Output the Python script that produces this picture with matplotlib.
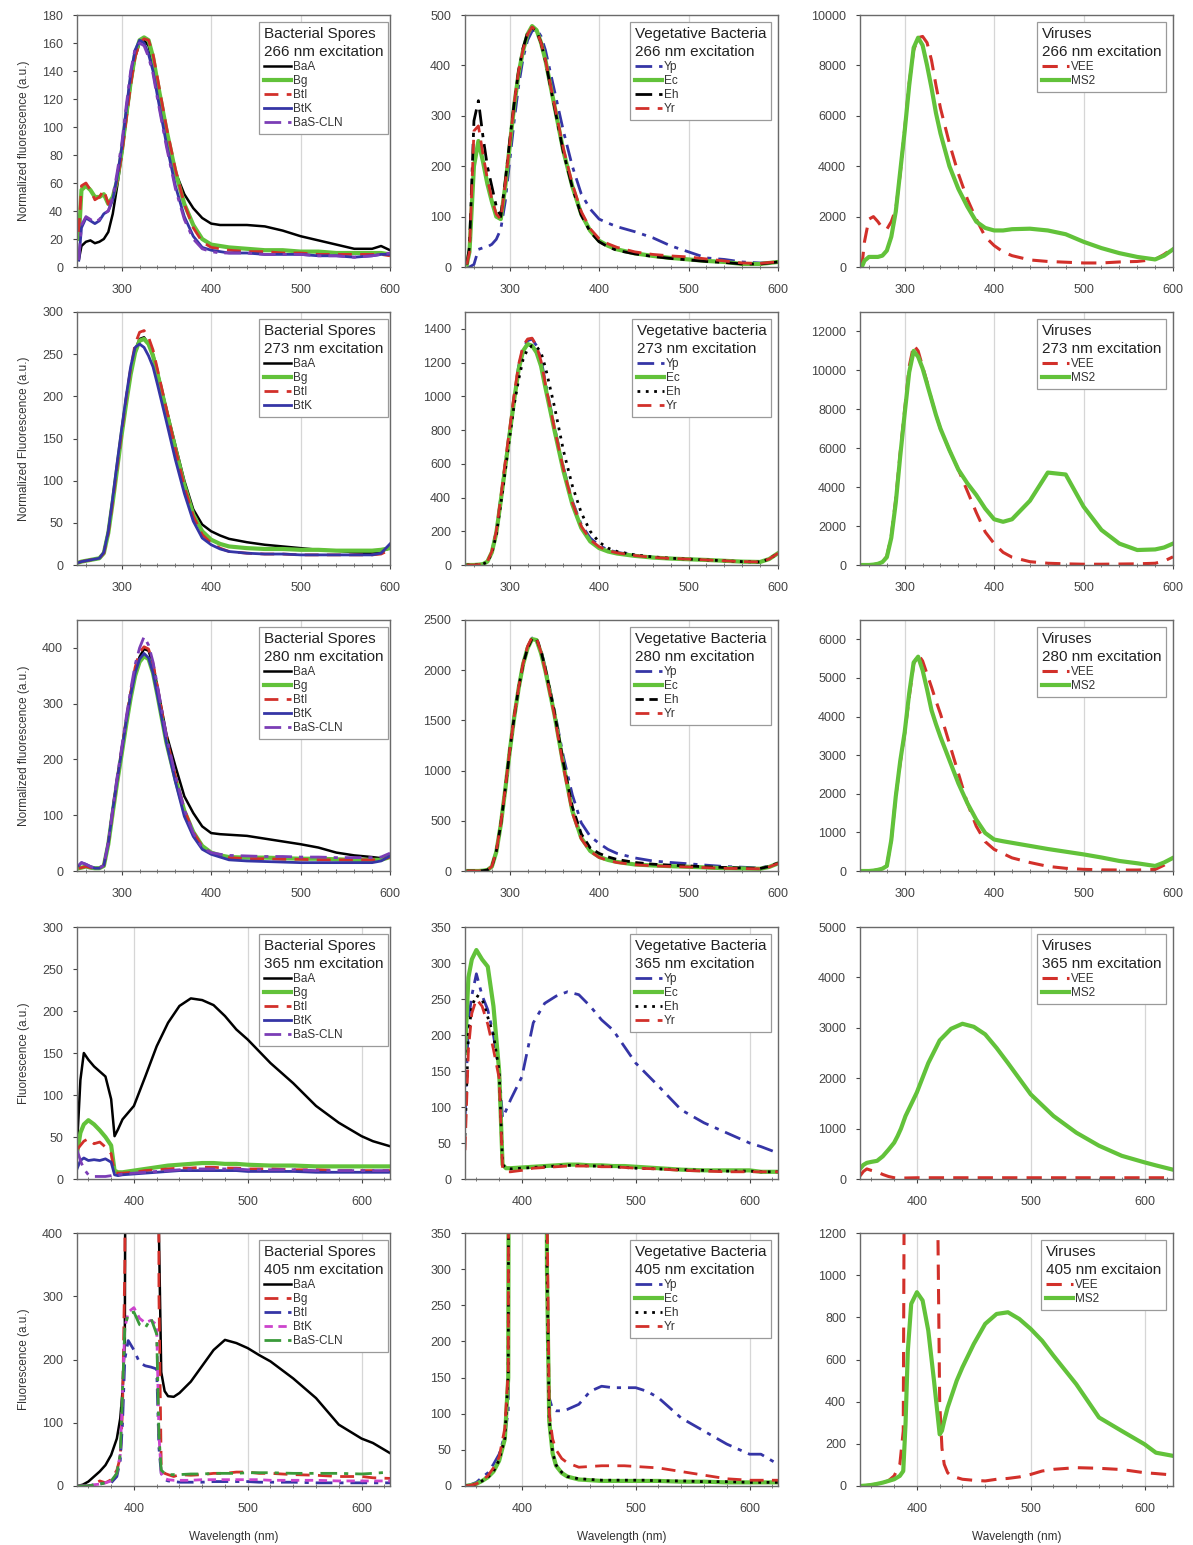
import numpy as np
import matplotlib
matplotlib.use('Agg')
import matplotlib.pyplot as plt
from matplotlib.ticker import MultipleLocator

plt.rcParams['font.family'] = ['Liberation Sans', 'DejaVu Sans']

# wavelength grids (nm)
wl_uv = [252, 255, 260, 265, 270, 275, 280, 285, 290, 295, 300, 305, 310, 315, 320, 325, 330, 335,
         340, 350, 360, 370, 380, 390, 400, 410, 420, 440, 460, 480, 500, 520, 540, 560, 580, 590, 600]
wl_365 = [350, 353, 356, 360, 365, 370, 375, 380, 383, 386, 390, 400, 410, 420, 430, 440, 450, 460,
          470, 480, 490, 500, 520, 540, 560, 580, 600, 610, 625]
wl_405 = [350, 355, 360, 365, 370, 375, 380, 385, 388, 390, 392, 395, 400, 405, 410, 415, 420, 422,
          424, 427, 430, 435, 440, 450, 460, 470, 480, 490, 500, 510, 520, 540, 560, 580, 600, 610, 625]

# ---- 266 nm excitation
spores_266 = {
    'BaA': [5, 15, 18, 19, 17, 18, 20, 25, 38, 58, 80, 105, 130, 150, 160, 162, 158, 145, 128, 95, 68, 52,
            42, 35, 31, 30, 30, 30, 29, 26, 22, 19, 16, 13, 13, 15, 12],
    'Bg': [20, 55, 58, 55, 50, 50, 52, 45, 50, 62, 82, 108, 132, 152, 162, 164, 162, 150, 132, 98, 68, 45,
           30, 20, 16, 15, 14, 13, 12, 12, 11, 11, 10, 10, 10, 10, 9],
    'BtI': [25, 58, 60, 55, 48, 50, 55, 45, 50, 62, 80, 105, 130, 150, 160, 163, 162, 152, 135, 100, 70, 45,
            28, 18, 14, 13, 12, 11, 11, 10, 10, 9, 9, 9, 9, 9, 8],
    'BtK': [5, 28, 35, 33, 31, 33, 38, 40, 48, 65, 85, 112, 138, 155, 162, 160, 152, 140, 122, 88, 58, 36,
            22, 14, 12, 11, 10, 10, 9, 9, 9, 8, 8, 7, 8, 9, 9],
    'BaS-CLN': [5, 30, 36, 34, 32, 34, 38, 40, 50, 68, 88, 115, 140, 156, 160, 158, 150, 138, 120, 86, 56,
                34, 20, 13, 11, 10, 10, 10, 9, 9, 9, 8, 8, 7, 8, 9, 10],
}
veg_266 = {
    'Yp': [0, 0, 5, 35, 38, 40, 45, 55, 75, 130, 210, 290, 360, 415, 450, 468, 472, 458, 430, 350, 270, 200,
           145, 115, 95, 87, 80, 70, 58, 42, 30, 18, 15, 10, 8, 9, 10],
    'Ec': [5, 30, 200, 250, 210, 165, 130, 100, 95, 160, 240, 320, 385, 430, 462, 478, 470, 445, 410, 320,
           230, 160, 105, 72, 52, 42, 35, 27, 22, 18, 15, 12, 10, 6, 6, 8, 10],
    'Eh': [5, 40, 290, 330, 260, 200, 160, 120, 100, 170, 250, 325, 390, 435, 465, 475, 468, 445, 408, 318,
           228, 158, 103, 70, 50, 40, 33, 26, 21, 17, 14, 11, 9, 6, 6, 8, 10],
    'Yr': [5, 30, 270, 280, 225, 175, 135, 105, 95, 165, 245, 325, 390, 432, 462, 476, 468, 445, 410, 322,
           235, 165, 110, 76, 56, 46, 39, 30, 25, 22, 20, 16, 12, 8, 7, 9, 10],
}
virus_266 = {
    'VEE': [0, 1000, 1900, 2000, 1800, 1550, 1500, 1800, 2300, 3700, 5500, 7300, 8600, 9100, 9150, 8900,
            8200, 7200, 6300, 4900, 3700, 2700, 1900, 1200, 850, 600, 450, 280, 220, 190, 160, 160, 200,
            220, 300, 500, 750],
    'MS2': [0, 250, 400, 400, 400, 450, 650, 1200, 2200, 3800, 5400, 7200, 8700, 9100, 8800, 8000, 7100,
            6100, 5300, 4000, 3100, 2400, 1800, 1550, 1450, 1450, 1500, 1520, 1450, 1300, 1000, 750, 550,
            400, 300, 450, 700],
}

# ---- 273 nm excitation
spores_273 = {
    'BaA': [3, 4, 5, 6, 7, 8, 15, 40, 78, 118, 157, 195, 229, 255, 268, 270, 262, 250, 229, 185, 142, 100,
            66, 48, 40, 35, 31, 27, 24, 22, 20, 18, 17, 15, 14, 16, 20],
    'Bg': [3, 4, 5, 6, 7, 8, 14, 38, 75, 115, 155, 192, 226, 252, 266, 268, 262, 248, 227, 182, 138, 95,
           60, 40, 30, 25, 22, 20, 19, 19, 18, 18, 17, 17, 17, 18, 20],
    'BtI': [3, 4, 5, 6, 7, 8, 14, 38, 76, 118, 158, 198, 233, 262, 276, 278, 270, 255, 232, 185, 138, 93,
            58, 36, 26, 20, 16, 14, 13, 13, 12, 12, 12, 12, 12, 13, 18],
    'BtK': [3, 4, 5, 6, 7, 8, 15, 40, 80, 122, 162, 200, 235, 258, 262, 258, 248, 235, 214, 170, 125, 85,
            52, 32, 24, 19, 16, 14, 13, 13, 12, 12, 12, 12, 12, 14, 25],
}
veg_273 = {
    'Yp': [0, 0, 0, 2, 5, 20, 80, 200, 400, 600, 800, 1000, 1180, 1290, 1330, 1340, 1300, 1220, 1080, 820,
           580, 380, 240, 160, 115, 90, 75, 58, 46, 40, 35, 30, 25, 20, 18, 35, 70],
    'Ec': [0, 0, 0, 2, 5, 20, 75, 190, 380, 580, 780, 980, 1160, 1270, 1310, 1300, 1260, 1180, 1050, 800,
           560, 360, 220, 140, 100, 80, 68, 54, 44, 38, 34, 30, 25, 20, 18, 35, 70],
    'Eh': [0, 0, 0, 2, 5, 18, 70, 180, 360, 560, 760, 950, 1100, 1220, 1280, 1300, 1295, 1260, 1170, 940,
           680, 470, 310, 200, 135, 100, 80, 60, 48, 40, 35, 30, 25, 20, 18, 35, 70],
    'Yr': [0, 0, 0, 2, 5, 20, 80, 200, 400, 610, 810, 1010, 1190, 1300, 1340, 1345, 1300, 1210, 1070, 810,
           570, 370, 230, 150, 108, 85, 72, 56, 45, 39, 35, 30, 25, 20, 18, 35, 70],
}
virus_273 = {
    'VEE': [0, 0, 0, 20, 60, 150, 450, 1500, 3400, 5800, 8000, 10200, 11300, 11000, 10200, 9400, 8500,
            7700, 7000, 5900, 4900, 3800, 2700, 1700, 1100, 650, 400, 170, 90, 60, 40, 40, 50, 60, 90, 200,
            420],
    'MS2': [0, 0, 0, 20, 60, 150, 400, 1400, 3200, 5600, 7800, 9900, 11000, 10700, 10100, 9300, 8500, 7700,
            7000, 5900, 4900, 4200, 3600, 2900, 2350, 2220, 2350, 3300, 4750, 4650, 3000, 1800, 1100, 770,
            800, 900, 1100],
}

# ---- 280 nm excitation
spores_280 = {
    'BaA': [5, 6, 8, 6, 5, 5, 10, 50, 110, 165, 217, 270, 318, 360, 384, 398, 395, 370, 330, 245, 188, 134,
            104, 80, 68, 66, 65, 63, 58, 53, 48, 42, 33, 28, 25, 23, 27],
    'Bg': [5, 6, 8, 6, 5, 5, 9, 48, 105, 160, 210, 262, 310, 350, 375, 385, 380, 355, 315, 230, 165, 108,
           70, 45, 33, 28, 25, 24, 24, 23, 22, 22, 21, 20, 20, 20, 25],
    'BtI': [5, 6, 8, 6, 5, 5, 10, 50, 108, 165, 218, 272, 320, 365, 392, 402, 398, 372, 330, 240, 170, 110,
            70, 44, 32, 27, 24, 22, 22, 21, 21, 20, 20, 20, 20, 20, 25],
    'BtK': [10, 15, 12, 8, 5, 5, 10, 50, 110, 165, 215, 268, 315, 355, 380, 390, 382, 355, 315, 230, 160,
            98, 62, 39, 30, 25, 20, 18, 17, 16, 15, 15, 15, 15, 15, 18, 27],
    'BaS-CLN': [10, 15, 12, 8, 5, 5, 10, 52, 112, 170, 222, 275, 325, 370, 400, 420, 405, 375, 332, 242,
                172, 110, 68, 42, 33, 30, 28, 27, 26, 26, 25, 25, 24, 24, 24, 25, 32],
}
veg_280 = {
    'Yp': [0, 0, 0, 0, 3, 10, 45, 200, 470, 820, 1200, 1540, 1830, 2070, 2230, 2320, 2320, 2200, 2020, 1600,
           1140, 760, 480, 345, 275, 215, 175, 130, 100, 85, 72, 58, 45, 38, 30, 50, 80],
    'Ec': [0, 0, 0, 0, 3, 10, 43, 190, 460, 810, 1190, 1530, 1820, 2060, 2220, 2310, 2300, 2170, 1990, 1560,
           1060, 600, 330, 200, 140, 110, 90, 65, 55, 48, 42, 35, 28, 25, 22, 40, 75],
    'Eh': [0, 0, 0, 0, 3, 10, 43, 195, 465, 815, 1195, 1535, 1825, 2060, 2220, 2315, 2310, 2190, 2010, 1580,
           1080, 640, 370, 230, 175, 140, 115, 85, 68, 58, 50, 42, 35, 30, 25, 45, 78],
    'Yr': [0, 0, 0, 0, 3, 10, 45, 200, 470, 820, 1200, 1540, 1830, 2070, 2240, 2330, 2320, 2180, 1990, 1550,
           1040, 580, 320, 195, 135, 105, 85, 62, 52, 45, 40, 33, 27, 24, 22, 40, 75],
}
virus_280 = {
    'VEE': [0, 0, 0, 10, 30, 60, 130, 800, 1930, 2800, 3560, 4500, 5360, 5610, 5440, 5100, 4760, 4400, 4070,
            3300, 2530, 1760, 1160, 760, 560, 450, 340, 220, 120, 70, 43, 30, 25, 25, 40, 150, 340],
    'MS2': [0, 0, 0, 10, 30, 60, 130, 800, 1930, 2850, 3600, 4600, 5400, 5550, 5200, 4700, 4160, 3800, 3470,
            2870, 2270, 1760, 1330, 985, 815, 770, 730, 650, 570, 500, 430, 350, 260, 200, 130, 220, 340],
}

# ---- 365 nm excitation
spores_365 = {
    'BaA': [39, 118, 150, 142, 134, 128, 122, 95, 51, 59, 71, 87, 122, 158, 186, 206, 215, 213, 207, 194,
            178, 166, 138, 114, 87, 67, 51, 45, 39],
    'Bg': [30, 55, 65, 70, 65, 58, 50, 40, 10, 8, 8, 10, 12, 14, 16, 17, 18, 19, 19, 18, 18, 17, 16, 16, 15,
           15, 15, 15, 15],
    'BtI': [35, 40, 45, 48, 42, 44, 38, 30, 8, 7, 7, 8, 10, 11, 12, 13, 13, 14, 14, 13, 13, 12, 12, 11, 11,
            10, 10, 10, 10],
    'BtK': [12, 22, 25, 22, 23, 22, 24, 20, 5, 4, 5, 6, 7, 8, 9, 10, 10, 10, 10, 10, 10, 9, 9, 9, 8, 8, 8,
            8, 8],
    'BaS-CLN': [35, 22, 12, 5, 3, 3, 3, 4, 5, 5, 6, 7, 8, 9, 10, 11, 12, 12, 12, 12, 12, 11, 11, 11, 10, 10,
                10, 10, 10],
}
veg_365 = {
    'Yp': [80, 220, 255, 285, 255, 235, 200, 150, 85, 95, 110, 142, 217, 244, 254, 260, 256, 240, 221, 207,
           184, 161, 129, 96, 78, 64, 50, 45, 36],
    'Ec': [175, 280, 305, 318, 305, 295, 240, 150, 20, 15, 15, 16, 17, 18, 19, 20, 20, 19, 19, 18, 18, 17,
           15, 13, 12, 12, 12, 10, 10],
    'Eh': [60, 200, 240, 255, 250, 225, 200, 150, 20, 15, 14, 15, 16, 17, 18, 19, 19, 18, 18, 17, 16, 15,
           14, 13, 12, 11, 11, 10, 10],
    'Yr': [40, 180, 230, 250, 240, 215, 180, 140, 15, 10, 10, 12, 15, 16, 17, 18, 18, 18, 17, 17, 16, 15,
           14, 12, 11, 10, 10, 10, 10],
}
virus_365 = {
    'VEE': [60, 150, 200, 170, 140, 90, 50, 25, 20, 18, 20, 25, 25, 25, 25, 25, 25, 25, 25, 25, 25, 25, 25,
            25, 25, 25, 25, 25, 25],
    'MS2': [200, 280, 320, 340, 360, 450, 580, 720, 850, 1000, 1250, 1720, 2300, 2750, 2980, 3080, 3020,
            2870, 2600, 2300, 1990, 1680, 1250, 920, 660, 460, 330, 270, 185],
}

# ---- 405 nm excitation (laser line saturates between ~390 and ~420 nm)
spores_405 = {
    'BaA': [0, 2, 7, 15, 23, 33, 49, 75, 107, 150, 228, 2000, 2000, 2000, 2000, 2000, 2000, 400, 180, 150,
            142, 141, 147, 165, 190, 215, 231, 226, 218, 207, 197, 170, 139, 97, 75, 68, 52],
    'Bg': [0, 0, 0, 3, 8, 5, 10, 25, 45, 120, 350, 2000, 2000, 2000, 2000, 2000, 2000, 300, 30, 20, 18, 15,
           18, 17, 18, 20, 20, 22, 22, 20, 20, 18, 17, 15, 15, 13, 12],
    'BtI': [0, 0, 0, 2, 3, 5, 5, 15, 40, 100, 200, 230, 215, 195, 190, 188, 185, 60, 20, 10, 8, 7, 6, 6, 6,
            7, 7, 7, 7, 6, 6, 6, 5, 5, 5, 5, 5],
    'BtK': [0, 0, 0, 2, 3, 5, 8, 20, 50, 150, 250, 275, 282, 265, 258, 262, 255, 80, 20, 12, 10, 9, 9, 9,
            10, 10, 10, 10, 10, 10, 9, 9, 9, 8, 8, 8, 8],
    'BaS-CLN': [0, 0, 0, 2, 3, 5, 8, 20, 50, 150, 250, 272, 275, 255, 250, 265, 240, 80, 25, 20, 18, 18, 18,
                19, 19, 20, 20, 20, 21, 21, 21, 20, 20, 20, 19, 20, 22],
}
veg_405 = {
    'Yp': [0, 2, 5, 12, 18, 30, 44, 71, 104, 2000, 2000, 2000, 2000, 2000, 2000, 2000, 2000, 300, 122, 106,
           104, 104, 106, 113, 131, 138, 136, 136, 136, 131, 122, 94, 76, 58, 44, 44, 30],
    'Ec': [0, 1, 3, 7, 12, 20, 35, 65, 150, 2000, 2000, 2000, 2000, 2000, 2000, 2000, 2000, 300, 90, 45, 28,
           18, 13, 9, 8, 7, 7, 7, 7, 7, 7, 6, 6, 5, 5, 5, 5],
    'Eh': [0, 1, 3, 7, 12, 20, 36, 66, 155, 2000, 2000, 2000, 2000, 2000, 2000, 2000, 2000, 310, 92, 46, 29,
           19, 13, 10, 9, 8, 8, 8, 8, 8, 7, 7, 6, 6, 5, 5, 5],
    'Yr': [0, 1, 3, 8, 14, 25, 40, 80, 160, 2000, 2000, 2000, 2000, 2000, 2000, 2000, 2000, 400, 100, 65,
           50, 38, 32, 26, 27, 28, 28, 28, 27, 26, 25, 20, 15, 10, 8, 8, 8],
}
virus_405 = {
    'VEE': [0, 2, 5, 10, 15, 25, 48, 103, 261, 3000, 3000, 3000, 3000, 3000, 3000, 3000, 400, 180, 103, 63,
            48, 40, 32, 27, 24, 32, 36, 43, 55, 71, 79, 87, 84, 78, 63, 59, 52],
    'MS2': [0, 2, 5, 10, 16, 24, 32, 48, 71, 293, 640, 864, 919, 880, 737, 500, 245, 262, 309, 372, 420,
            500, 563, 674, 769, 816, 824, 792, 745, 689, 618, 483, 325, 261, 198, 158, 143],
}

# ---- line styles
GREEN = '#62c23a'
RED = '#d2302a'
BLUE = '#3535a6'
PURPLE = '#7b3db6'
DASH = (0, (5, 3))
DASHDOT = (0, (6, 2.5, 1.5, 2.5))
DOT = (0, (1, 2))

spore_style = {
    'BaA': dict(color='black', lw=1.8, ls='-'),
    'Bg': dict(color=GREEN, lw=3.0, ls='-'),
    'BtI': dict(color=RED, lw=2.0, ls=DASH),
    'BtK': dict(color=BLUE, lw=2.0, ls='-'),
    'BaS-CLN': dict(color=PURPLE, lw=2.0, ls=DASHDOT),
}
spore_style_405 = {
    'BaA': dict(color='black', lw=1.8, ls='-'),
    'Bg': dict(color=RED, lw=2.0, ls=DASH),
    'BtI': dict(color=BLUE, lw=2.0, ls=DASHDOT),
    'BtK': dict(color='#cc44cc', lw=2.0, ls=(0, (3, 2))),
    'BaS-CLN': dict(color='#3a9a3a', lw=2.0, ls=DASHDOT),
}


def veg_style(eh_ls):
    return {
        'Yp': dict(color=BLUE, lw=2.0, ls=DASHDOT),
        'Ec': dict(color=GREEN, lw=3.0, ls='-'),
        'Eh': dict(color='black', lw=2.0, ls=eh_ls),
        'Yr': dict(color=RED, lw=2.0, ls=DASH),
    }


virus_style = {
    'VEE': dict(color=RED, lw=2.2, ls=DASH),
    'MS2': dict(color=GREEN, lw=3.0, ls='-'),
}

# panel layout in pixels (left, right) / (top, bottom)
W, H = 1193, 1545
col_px = [(77, 390), (465, 778), (860, 1173)]
row_px = [(15, 267), (312, 565), (620, 871), (927, 1179), (1233, 1486)]

panels = [
    # row, col, x, data, style, title, ylim, ytop, ystep
    (0, 0, wl_uv, spores_266, spore_style, 'Bacterial Spores\n266 nm excitation', 180, 180, 20),
    (0, 1, wl_uv, veg_266, veg_style(DASHDOT), 'Vegetative Bacteria\n266 nm excitation', 500, 500, 100),
    (0, 2, wl_uv, virus_266, virus_style, 'Viruses\n266 nm excitation', 10000, 10000, 2000),
    (1, 0, wl_uv, spores_273, spore_style, 'Bacterial Spores\n273 nm excitation', 300, 300, 50),
    (1, 1, wl_uv, veg_273, veg_style(DOT), 'Vegetative bacteria\n273 nm excitation', 1500, 1400, 200),
    (1, 2, wl_uv, virus_273, virus_style, 'Viruses\n273 nm excitation', 13000, 12000, 2000),
    (2, 0, wl_uv, spores_280, spore_style, 'Bacterial Spores\n280 nm excitation', 450, 400, 100),
    (2, 1, wl_uv, veg_280, veg_style((0, (3, 2))), 'Vegetative Bacteria\n280 nm excitation', 2500, 2500, 500),
    (2, 2, wl_uv, virus_280, virus_style, 'Viruses\n280 nm excitation', 6500, 6000, 1000),
    (3, 0, wl_365, spores_365, spore_style, 'Bacterial Spores\n365 nm excitation', 300, 300, 50),
    (3, 1, wl_365, veg_365, veg_style(DOT), 'Vegetative Bacteria\n365 nm excitation', 350, 350, 50),
    (3, 2, wl_365, virus_365, virus_style, 'Viruses\n365 nm excitation', 5000, 5000, 1000),
    (4, 0, wl_405, spores_405, spore_style_405, 'Bacterial Spores\n405 nm excitation', 400, 400, 100),
    (4, 1, wl_405, veg_405, veg_style(DOT), 'Vegetative Bacteria\n405 nm excitation', 350, 350, 50),
    (4, 2, wl_405, virus_405, virus_style, 'Viruses\n405 nm excitaion', 1200, 1200, 200),
]

ylabels = ['Normalized fluorescence (a.u.)', 'Normalized Fluorescence (a.u.)',
           'Normalized fluorescence (a.u.)', 'Fluorescence (a.u.)', 'Fluorescence (a.u.)']

fig = plt.figure(figsize=(W / 100, H / 100), dpi=100)

for r, c, x, data, styles, title, ylim, ytop, ystep in panels:
    l, rr = col_px[c]
    t, b = row_px[r]
    ax = fig.add_axes([l / W, 1 - b / H, (rr - l) / W, (b - t) / H])

    for name, y in data.items():
        ax.plot(x, y, label=name, **styles[name])

    if r < 3:
        ax.set_xlim(250, 600)
        ax.set_xticks([300, 400, 500, 600])
    else:
        ax.set_xlim(350, 625)
        ax.set_xticks([400, 500, 600])
    ax.xaxis.set_minor_locator(MultipleLocator(20))
    ax.set_ylim(0, ylim)
    ax.set_yticks(np.arange(0, ytop + 1, ystep))

    ax.grid(axis='x', color='#d6d6d6', lw=0.9)
    ax.set_axisbelow(True)
    for s in ax.spines.values():
        s.set_color('#6a6a6a')
        s.set_linewidth(1.0)
    ax.tick_params(which='major', labelsize=9, colors='#444444', length=3, direction='out')
    ax.tick_params(axis='x', which='major', pad=9)
    ax.tick_params(axis='y', which='major', pad=7)
    ax.tick_params(which='minor', length=2.5, direction='inout', colors='#666666')

    if c == 0:
        ax.set_ylabel(ylabels[r], fontsize=8.5, color='#333333', labelpad=9)
    if r == 4:
        ax.set_xlabel('Wavelength (nm)', fontsize=8.5, color='#333333', labelpad=12)

    leg = ax.legend(title=title, loc='upper right', bbox_to_anchor=(0.994 if c == 0 else 0.978, 0.972),
                    borderaxespad=0, fontsize=8.5, title_fontsize=11, alignment='left',
                    frameon=True, fancybox=False, edgecolor='#9a9a9a', framealpha=1,
                    handlelength=2.3, handletextpad=0.15, labelspacing=0.18, borderpad=0.4)
    leg.get_frame().set_linewidth(0.9)
    leg.get_title().set_color('#222222')
    leg.get_title().set_linespacing(1.35)
    for txt in leg.get_texts():
        txt.set_color('#333333')

fig.savefig('out.png', dpi=100, facecolor='white')
